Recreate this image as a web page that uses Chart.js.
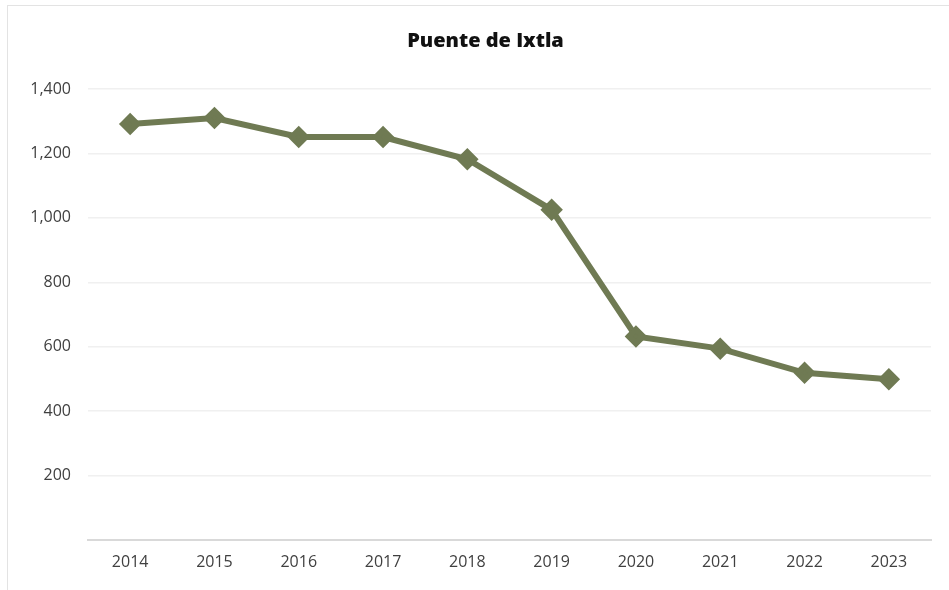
<!DOCTYPE html>
<html><head><meta charset="utf-8">
<script src="https://cdn.jsdelivr.net/npm/chart.js@4"></script>
<style>
html,body{margin:0;padding:0;background:#fff;}
#wrap{position:absolute;left:7px;top:5px;width:942px;height:585px;border-left:1px solid #e3e3e3;border-top:1px solid #e3e3e3;box-sizing:border-box;}
canvas{display:block;}
</style></head><body>
<div id="wrap"><canvas id="c" width="941" height="584"></canvas></div>
<script>
const years = ['2014','2015','2016','2017','2018','2019','2020','2021','2022','2023'];
const values = [1291, 1310, 1251, 1251, 1182, 1025, 632, 594, 519, 499];
const yTicksMax = 1400;
const yStep = 200;
const titleText = 'Puente de Ixtla';
const lineColor = '#6f7a53';

const titlePlugin = {
  id: 'customTitle',
  afterDraw(chart) {
    const ctx = chart.ctx;
    ctx.save();
    ctx.font = '800 20px "Open Sans"';
    ctx.fillStyle = '#111';
    ctx.textAlign = 'center';
    ctx.textBaseline = 'middle';
    ctx.fillText(titleText, chart.width / 2 + 7, 35);
    ctx.restore();
  }
};

new Chart(document.getElementById('c'), {
  type: 'line',
  data: { labels: years, datasets: [{
    data: values, borderColor: lineColor, backgroundColor: lineColor,
    borderWidth: 6, pointStyle: 'rectRot', pointRadius: 7, pointHoverRadius: 7,
    tension: 0, fill: false
  }]},
  options: {
    responsive: false, animation: false,
    layout: { padding: { left: 0, right: 18, top: 83, bottom: 0 } },
    plugins: {
      legend: { display: false }, tooltip: { enabled: false },
      title: { display: false }
    },
    scales: {
      x: {
        offset: true,
        grid: { display: false, drawTicks: false },
        border: { color: '#d9d9d9', width: 2 },
        ticks: { color: '#404040', font: { family: 'Open Sans', size: 16 }, padding: 13 },
        afterFit: s => { s.height = 50; }
      },
      y: {
        min: 0, max: yTicksMax,
        grid: { color: '#f0f0f0', lineWidth: 1.5, drawTicks: false },
        border: { display: false },
        ticks: { stepSize: yStep, color: '#404040', font: { family: 'Open Sans', size: 16 }, padding: 17,
          callback: v => v === 0 ? '' : v.toLocaleString('en-US') },
        afterFit: s => { s.width = 80; }
      }
    }
  },
  plugins: [titlePlugin]
});
</script></body></html>
